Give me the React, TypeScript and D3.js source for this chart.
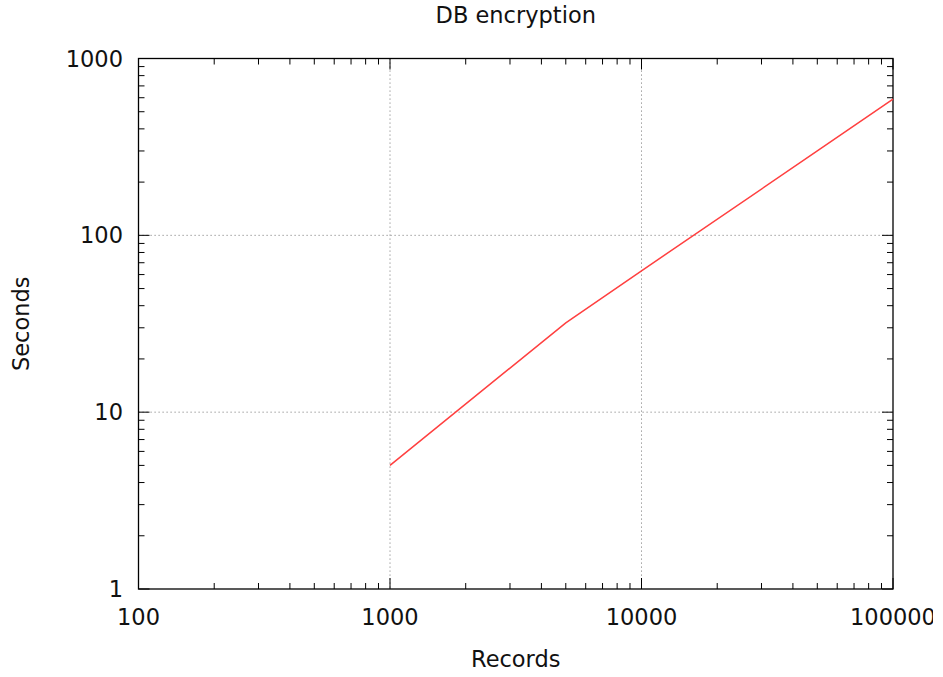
import React from "react";
import * as d3 from "d3";

// Encryption timings
const records = [1000, 5000, 10000, 50000, 100000];
const seconds = [5, 32, 63, 300, 590];

const xTickValues = [100, 1000, 10000, 100000];
const yTickValues = [1, 10, 100, 1000];
const xGridValues = [1000, 10000];
const yGridValues = [10, 100];

const W = 943;
const H = 677;
const M = { left: 138.5, right: 893, top: 58.5, bottom: 589 };
const FONT = "'DejaVu Sans', sans-serif";
const FS = 22.5;

function minorTicks(domain: [number, number]) {
  const out: number[] = [];
  for (let d = domain[0]; d < domain[1]; d *= 10) {
    for (let k = 2; k <= 9; k++) out.push(d * k);
  }
  return out;
}

export default function App() {
  const x = d3.scaleLog().domain([100, 100000]).range([M.left, M.right]);
  const y = d3.scaleLog().domain([1, 1000]).range([M.bottom, M.top]);

  const line = d3
    .line<number>()
    .x((_, i) => x(records[i]))
    .y((d) => y(d));

  const MAJ = 11;
  const MIN = 6;
  const xMinor = minorTicks([100, 100000]);
  const yMinor = minorTicks([1, 1000]);

  return (
    <svg
      width={W}
      height={H}
      style={{ position: "absolute", left: 0, top: 0, background: "#fff" }}
    >
      <defs>
        <clipPath id="page">
          <rect x={0} y={0} width={933} height={H} />
        </clipPath>
      </defs>
      <g clipPath="url(#page)">
        {/* grid */}
        {xGridValues.map((v) => (
          <line
            key={"gx" + v}
            x1={x(v)}
            x2={x(v)}
            y1={M.top}
            y2={M.bottom}
            stroke="#888"
            strokeWidth={1}
            strokeDasharray="1.2,2.8"
          />
        ))}
        {yGridValues.map((v) => (
          <line
            key={"gy" + v}
            x1={M.left}
            x2={M.right}
            y1={y(v)}
            y2={y(v)}
            stroke="#888"
            strokeWidth={1}
            strokeDasharray="1.2,2.8"
          />
        ))}

        {/* ticks on all four sides, pointing inward */}
        <g stroke="#000" strokeWidth={1}>
          {xTickValues.map((v) => (
            <g key={"xt" + v}>
              <line x1={x(v)} x2={x(v)} y1={M.bottom} y2={M.bottom - MAJ} />
              <line x1={x(v)} x2={x(v)} y1={M.top} y2={M.top + MAJ} />
            </g>
          ))}
          {xMinor.map((v) => (
            <g key={"xm" + v}>
              <line x1={x(v)} x2={x(v)} y1={M.bottom} y2={M.bottom - MIN} />
              <line x1={x(v)} x2={x(v)} y1={M.top} y2={M.top + MIN} />
            </g>
          ))}
          {yTickValues.map((v) => (
            <g key={"yt" + v}>
              <line x1={M.left} x2={M.left + MAJ} y1={y(v)} y2={y(v)} />
              <line x1={M.right} x2={M.right - MAJ} y1={y(v)} y2={y(v)} />
            </g>
          ))}
          {yMinor.map((v) => (
            <g key={"ym" + v}>
              <line x1={M.left} x2={M.left + MIN} y1={y(v)} y2={y(v)} />
              <line x1={M.right} x2={M.right - MIN} y1={y(v)} y2={y(v)} />
            </g>
          ))}
        </g>

        {/* frame */}
        <rect
          x={M.left}
          y={M.top}
          width={M.right - M.left}
          height={M.bottom - M.top}
          fill="none"
          stroke="#000"
          strokeWidth={1.3}
        />

        {/* series */}
        <path
          d={line(seconds) ?? ""}
          fill="none"
          stroke="#ff4040"
          strokeWidth={1.5}
        />

        {/* tick labels */}
        <g fontFamily={FONT} fontSize={FS} fill="#111">
          {xTickValues.map((v) => (
            <text key={"xl" + v} x={x(v)} y={625} textAnchor="middle">
              {String(v)}
            </text>
          ))}
          {yTickValues.map((v) => (
            <text key={"yl" + v} x={123} y={y(v) + 8} textAnchor="end">
              {String(v)}
            </text>
          ))}
        </g>

        {/* titles */}
        <text
          x={(M.left + M.right) / 2}
          y={23}
          textAnchor="middle"
          fontFamily={FONT}
          fontSize={FS}
          fill="#111"
        >
          DB encryption
        </text>
        <text
          x={(M.left + M.right) / 2}
          y={667}
          textAnchor="middle"
          fontFamily={FONT}
          fontSize={FS}
          fill="#111"
        >
          Records
        </text>
        <text
          transform={`translate(29, ${(M.top + M.bottom) / 2}) rotate(-90)`}
          textAnchor="middle"
          fontFamily={FONT}
          fontSize={FS}
          fill="#111"
        >
          Seconds
        </text>
      </g>
    </svg>
  );
}
